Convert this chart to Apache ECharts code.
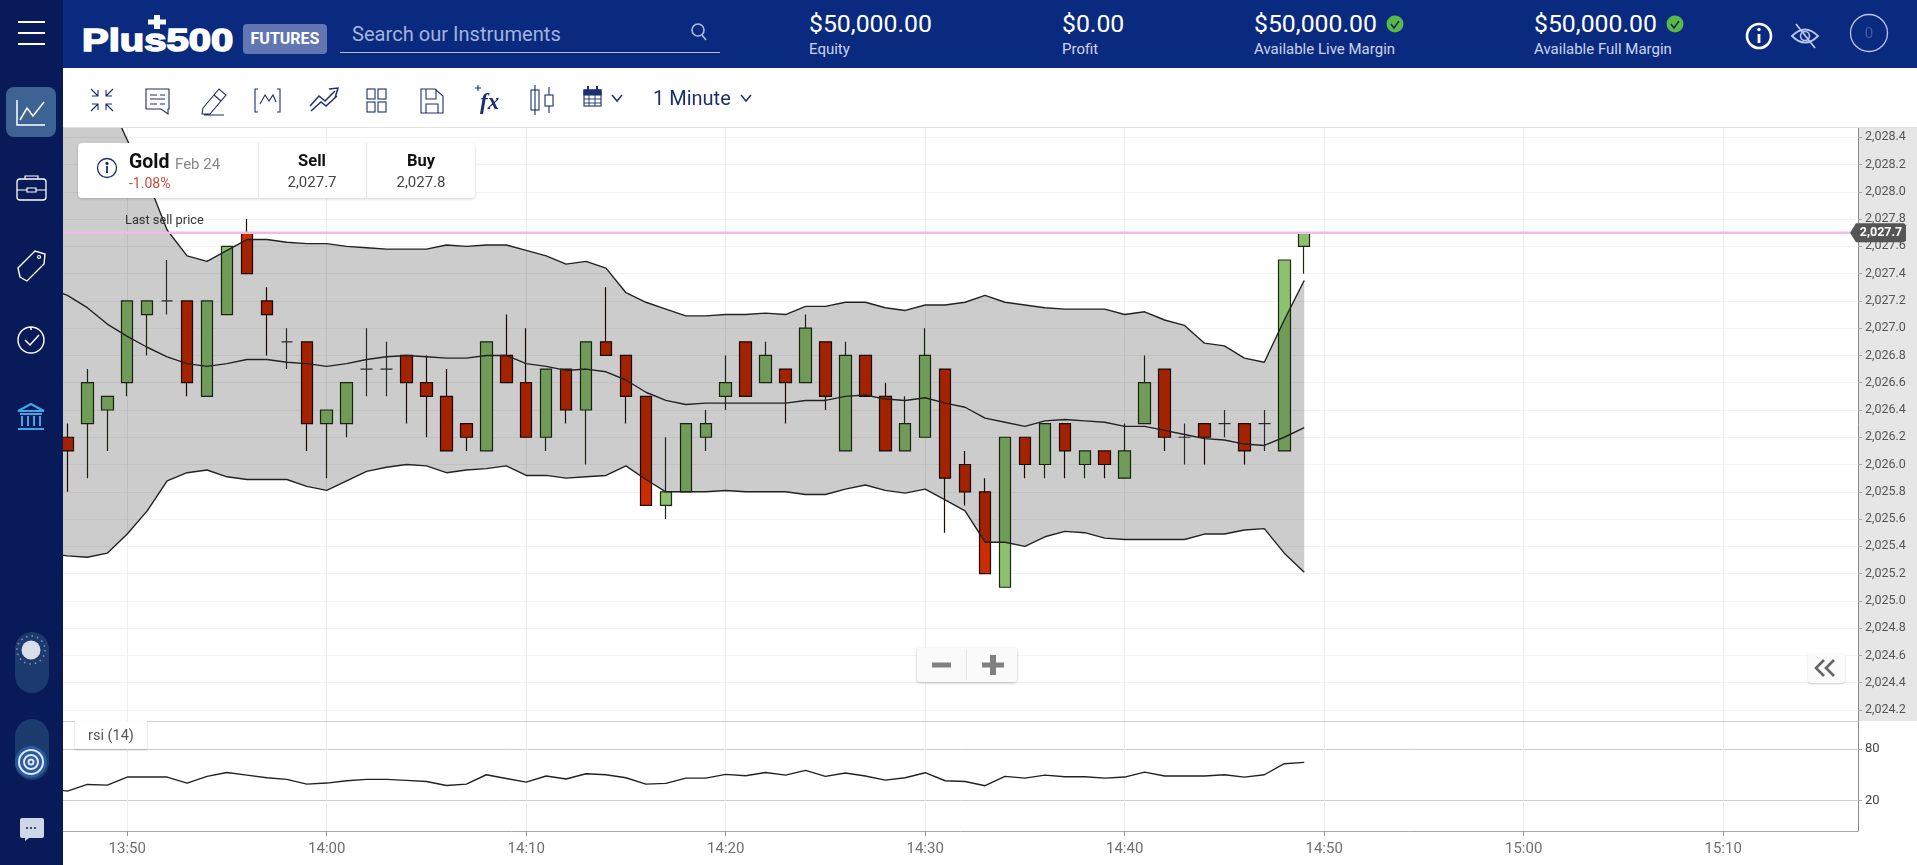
<!DOCTYPE html>
<html><head><meta charset="utf-8">
<script src="https://cdn.jsdelivr.net/npm/echarts@6/dist/echarts.min.js"></script>
<style>
html,body{margin:0;padding:0;width:1917px;height:865px;overflow:hidden;background:#fff;font-family:Roboto,sans-serif}
.a{position:absolute;white-space:nowrap}
#chart{position:absolute;left:0;top:0;width:1917px;height:865px}
svg{position:absolute;overflow:visible}
</style></head><body>
<div class="a" style="left:1858px;top:128px;width:59px;height:593px;background:#e6e6e6"></div>
<div id="chart"></div>

<div class="a" style="left:0;top:0;width:1917px;height:68px;background:#0a2a80"></div>
<div class="a" style="left:63px;top:68px;width:1854px;height:59px;background:#fff;border-bottom:1px solid #e2e2e2"></div>
<div class="a" style="left:0;top:0;width:63px;height:865px;background:#081a58"></div>

<svg style="left:0;top:0" width="63" height="865" fill="none" stroke="#fff" stroke-width="1.6">
<path d="M18 22H45M18 33H45M18 44H45" stroke-width="1.8"/>
<rect x="6" y="87" width="50" height="50" rx="8" fill="#3d6394" stroke="none"/>
<path d="M17 100V125H45M20 120L27 108L33 116L44 102" stroke-width="1.5"/>
<rect x="17" y="179" width="29" height="21" rx="3" stroke-width="1.3"/><path d="M25 179V176H38V179M17 190H27M36 190H46M27 188H36V192H27Z" stroke-width="1.2"/>
<path d="M20 277L18 268L35 251L45 254L44 264L27 281Z" stroke-width="1.4"/><circle cx="39" cy="257" r="1.5" stroke-width="1.2"/>
<circle cx="31" cy="340" r="13" stroke-width="1.4"/><path d="M25 340L30 345L39 335M31 327V330" stroke-width="1.5"/>
<g stroke="#3ea7ec" stroke-width="2"><path d="M18 411L31 404L44 411ZM20 414H42M22 416V426M28 416V426M34 416V426M40 416V426M18 429H44"/></g>
<rect x="15" y="632" width="34" height="61" rx="17" fill="#1b3b6f" stroke="none"/>
<circle cx="31" cy="650" r="9.5" fill="#d9dde8" stroke="none"/>
<circle cx="31" cy="650" r="14" stroke="#7f93bd" stroke-dasharray="1.5 4" stroke-width="1.6"/>
<rect x="15" y="719" width="34" height="61" rx="17" fill="#1b3b6f" stroke="none"/>
<circle cx="31" cy="762" r="16" fill="#2a5aa0" stroke="none"/>
<g stroke="#dfe8f8" stroke-width="2"><circle cx="31" cy="762" r="12"/><circle cx="31" cy="762" r="7"/><circle cx="31" cy="762" r="2.5"/></g>
<path d="M20 820a2 2 0 0 1 2-2H42a2 2 0 0 1 2 2V836a2 2 0 0 1-2 2H29L25 841V838H22a2 2 0 0 1-2-2Z" fill="#cfd6e6" stroke="none"/>
<circle cx="27" cy="828" r="1" fill="#123" stroke="none"/><circle cx="31" cy="828" r="1" fill="#123" stroke="none"/><circle cx="35" cy="828" r="1" fill="#123" stroke="none"/>
</svg>

<div class="a" style="left:82px;top:24px;color:#fff;font:700 32px/32px 'Liberation Sans',sans-serif;-webkit-text-stroke:1.6px #fff;transform:scaleX(1.25);transform-origin:0 0">Plus500</div>
<svg style="left:148px;top:15px" width="18" height="14"><path d="M6 0H12V4.5H18V9.5H12V14H6V9.5H0V4.5H6Z" fill="#fff"/></svg>
<div class="a" style="left:243px;top:24px;width:84px;height:30px;border-radius:4px;background:#6276b3;color:#fff;font:700 16px/30px Roboto,sans-serif;text-align:center">FUTURES</div>
<div class="a" style="left:352px;top:22px;color:#a3b3dc;font:20.1px/24px Roboto,sans-serif">Search our Instruments</div>
<div class="a" style="left:340px;top:52px;width:380px;height:1px;background:#b4c1e4"></div>
<svg style="left:689px;top:22px" width="20" height="20" fill="none" stroke="#aebce0" stroke-width="1.6"><circle cx="9" cy="8" r="6"/><path d="M13 13L17 18"/></svg>

<div class="a" style="left:809px;top:10px;color:#fff;font:24.8px/28px Roboto,sans-serif">$50,000.00</div>
<div class="a" style="left:809px;top:40px;color:#cbd5ef;font:15px/18px Roboto,sans-serif">Equity</div>
<div class="a" style="left:1062px;top:10px;color:#fff;font:24.8px/28px Roboto,sans-serif">$0.00</div>
<div class="a" style="left:1062px;top:40px;color:#cbd5ef;font:15px/18px Roboto,sans-serif">Profit</div>
<div class="a" style="left:1254px;top:10px;color:#fff;font:24.8px/28px Roboto,sans-serif">$50,000.00</div>
<div class="a" style="left:1254px;top:40px;color:#cbd5ef;font:15px/18px Roboto,sans-serif">Available Live Margin</div>
<div class="a" style="left:1534px;top:10px;color:#fff;font:24.8px/28px Roboto,sans-serif">$50,000.00</div>
<div class="a" style="left:1534px;top:40px;color:#cbd5ef;font:15px/18px Roboto,sans-serif">Available Full Margin</div>
<svg style="left:0;top:0" width="1917" height="68" fill="none" stroke="#fff">
<circle cx="1395" cy="24" r="8.5" fill="#58b84a" stroke="none"/><path d="M1391 24L1394 28L1399 21" stroke="#0a2a50" stroke-width="1.4"/>
<circle cx="1675" cy="24" r="8.5" fill="#58b84a" stroke="none"/><path d="M1671 24L1674 28L1679 21" stroke="#0a2a50" stroke-width="1.4"/>
<circle cx="1759" cy="36" r="12" stroke-width="2.6"/><path d="M1759 34V43" stroke-width="2.8"/><circle cx="1759" cy="29.5" r="1.7" fill="#fff" stroke="none"/>
<path d="M1792 36Q1805 23 1818 36Q1805 49 1792 36ZM1796 24L1815 48" stroke="#b9c6e8" stroke-width="1.8"/><circle cx="1805" cy="36" r="4.5" stroke="#b9c6e8" stroke-width="1.6"/>
<circle cx="1869" cy="33" r="18.5" stroke="#b9c6e8" stroke-width="1.3"/>
</svg>
<div class="a" style="left:1849px;top:24px;width:40px;text-align:center;color:#3e5aa8;font:15px/18px Roboto,sans-serif">0</div>

<svg style="left:0;top:68px" width="800" height="60" fill="none" stroke="#1c2f6e" stroke-width="1.1">
<path d="M91 21L98 28M98 22V28H92M113 21L106 28M106 22V28H112M91 43L98 36M92 36H98V42M113 43L106 36M106 42V36H112"/>
<path d="M146 21H169V41H168V46L161 41H146ZM150 27H157M160 27H165M150 31H165M150 36H157M160 36H165"/>
<path d="M203 40L219 21L226 27L210 46H202ZM204 47H224M214 27L221 33"/>
<path d="M258 21H255V44H258M277 21H280V44H277M260 36L265 27L269 33L273 27L276 34"/>
<path d="M310 38L319 28L325 33L335 23M335 30L338 20L329 21M311 43L321 34L326 38L337 28" stroke-width="1.5"/>
<rect x="367" y="21" width="8" height="10"/><rect x="378" y="21" width="8" height="10"/><rect x="367" y="34" width="8" height="10"/><rect x="378" y="34" width="8" height="10"/>
<path d="M421 21H435L443 28V45H421ZM426 21V31H436V21M426 45V36H438V45"/>
<text x="480" y="41" font-family="Liberation Serif" font-size="23" font-style="italic" font-weight="700" fill="#1c2f6e" stroke="none">fx</text>
<path d="M475 20H481M478 17V23"/>
<rect x="531" y="22" width="8" height="20"/><path d="M535 17V47M549 19V45"/><rect x="545" y="27" width="8" height="11" fill="#fff"/>
<rect x="584" y="22" width="17" height="16"/><rect x="584" y="22" width="17" height="5" fill="#1c2f6e"/><path d="M584 31H601M584 35H601M589 27V38M595 27V38" stroke-width=".9"/><path d="M588 18V23M597 18V23" stroke-width="2"/>
<path d="M612 27L617 33L622 27M741 27L746 33L751 27" stroke-width="1.5"/>
</svg>
<div class="a" style="left:653px;top:86px;color:#1c2f6e;font:20px/24px Roboto,sans-serif">1 Minute</div>

<div class="a" style="left:78px;top:143px;width:397px;height:55px;background:#fff;border-radius:4px;box-shadow:0 1px 3px rgba(0,0,0,.18)"></div>
<div class="a" style="left:258px;top:143px;width:1px;height:55px;background:#e6e6e6"></div>
<div class="a" style="left:366px;top:143px;width:1px;height:55px;background:#e6e6e6"></div>
<svg style="left:97px;top:158px" width="22" height="22" fill="none" stroke="#1c2f6e" stroke-width="1.3"><circle cx="10" cy="10" r="9.5"/><path d="M10 8V15" stroke-width="1.8"/><circle cx="10" cy="5.5" r="1" fill="#1c2f6e"/></svg>
<div class="a" style="left:129px;top:151px;color:#111;font:700 19.5px/22px Roboto,sans-serif">Gold</div>
<div class="a" style="left:175px;top:155px;color:#888;font:15px/18px Roboto,sans-serif">Feb 24</div>
<div class="a" style="left:129px;top:174px;color:#cf4a3c;font:14px/18px Roboto,sans-serif">-1.08%</div>
<div class="a" style="left:258px;top:151px;width:108px;text-align:center;color:#111;font:700 16.5px/20px Roboto,sans-serif">Sell</div>
<div class="a" style="left:258px;top:173px;width:108px;text-align:center;color:#444;font:15px/18px Roboto,sans-serif">2,027.7</div>
<div class="a" style="left:367px;top:151px;width:108px;text-align:center;color:#111;font:700 16.5px/20px Roboto,sans-serif">Buy</div>
<div class="a" style="left:367px;top:173px;width:108px;text-align:center;color:#444;font:15px/18px Roboto,sans-serif">2,027.8</div>
<div class="a" style="left:125px;top:212px;color:#333;font:12.8px/15px Roboto,sans-serif">Last sell price</div>

<div class="a" style="left:917px;top:648px;width:100px;height:34px;background:#fafafa;border-radius:3px;box-shadow:0 1px 3px rgba(0,0,0,.25)"></div>
<div class="a" style="left:966px;top:650px;width:1px;height:30px;background:#e4e4e4"></div>
<svg style="left:917px;top:648px" width="100" height="34"><path d="M15 14.5H34V19.5H15ZM65 14.5H73V7H79V14.5H87V19.5H79V27H73V19.5H65Z" fill="#808080"/></svg>
<div class="a" style="left:1808px;top:653px;width:37px;height:30px;background:#fafafa;border-radius:3px;box-shadow:0 1px 2px rgba(0,0,0,.2)"></div>
<svg style="left:1808px;top:653px" width="37" height="30" fill="none" stroke="#666" stroke-width="2.6"><path d="M16 7L8 15L16 23M26 7L18 15L26 23"/></svg>
<div class="a" style="left:75px;top:721px;width:72px;height:28px;background:#fff;box-shadow:0 1px 2px rgba(0,0,0,.2);text-align:center;color:#555;font:14.5px/30px Roboto,sans-serif">rsi (14)</div>

<script>
const xTickValues = [830,840,850,860,870,880,890,900,910];
const xTickLabels = ['13:50','14:00','14:10','14:20','14:30','14:40','14:50','15:00','15:10'];
const priceTicks = [2028.4,2028.2,2028.0,2027.8,2027.6,2027.4,2027.2,2027.0,2026.8,2026.6,2026.4,2026.2,2026.0,2025.8,2025.6,2025.4,2025.2,2025.0,2024.8,2024.6,2024.4,2024.2];
const rsiTicks = [20,80];
const lastPrice = 2027.7;
const minutes = [827,828,829,830,831,832,833,834,835,836,837,838,839,840,841,842,843,844,845,846,847,848,849,850,851,852,853,854,855,856,857,858,859,860,861,862,863,864,865,866,867,868,869,870,871,872,873,874,875,876,877,878,879,880,881,882,883,884,885,886,887,888,889];
const opens = [2026.2,2026.3,2026.4,2026.6,2027.1,2027.2,2027.2,2026.5,2027.1,2027.7,2027.2,2026.9,2026.9,2026.3,2026.3,2026.7,2026.7,2026.8,2026.6,2026.5,2026.3,2026.1,2026.8,2026.6,2026.2,2026.7,2026.4,2026.9,2026.8,2026.5,2025.7,2025.8,2026.2,2026.5,2026.9,2026.6,2026.7,2026.6,2026.9,2026.1,2026.8,2026.5,2026.1,2026.2,2026.7,2026.0,2025.8,2025.1,2026.2,2026.0,2026.3,2026.0,2026.1,2025.9,2026.3,2026.7,2026.2,2026.3,2026.3,2026.3,2026.3,2026.1,2027.6];
const closes = [2026.1,2026.6,2026.5,2027.2,2027.2,2027.2,2026.6,2027.2,2027.6,2027.4,2027.1,2026.9,2026.3,2026.4,2026.6,2026.7,2026.7,2026.6,2026.5,2026.1,2026.2,2026.9,2026.6,2026.2,2026.7,2026.4,2026.9,2026.8,2026.5,2025.7,2025.8,2026.3,2026.3,2026.6,2026.5,2026.8,2026.6,2027.0,2026.5,2026.8,2026.5,2026.1,2026.3,2026.8,2025.9,2025.8,2025.2,2026.2,2026.0,2026.3,2026.1,2026.1,2026.0,2026.1,2026.6,2026.2,2026.2,2026.2,2026.3,2026.1,2026.3,2027.5,2027.7];
const lows = [2025.8,2025.9,2026.1,2026.5,2026.8,2027.1,2026.5,2026.5,2027.1,2027.4,2026.8,2026.7,2026.1,2025.9,2026.2,2026.5,2026.5,2026.3,2026.2,2026.1,2026.1,2026.1,2026.6,2026.2,2026.1,2026.3,2026.0,2026.8,2026.3,2025.7,2025.6,2025.8,2026.1,2026.4,2026.5,2026.6,2026.3,2026.6,2026.4,2026.1,2026.5,2026.1,2026.1,2026.2,2025.5,2025.7,2025.2,2025.1,2025.9,2025.9,2025.9,2025.9,2025.9,2025.9,2026.3,2026.1,2026.0,2026.0,2026.2,2026.0,2026.1,2026.1,2027.4];
const highs = [2026.3,2026.7,2026.5,2027.2,2027.2,2027.5,2027.2,2027.2,2027.6,2027.8,2027.3,2027.0,2026.9,2026.4,2026.6,2027.0,2026.9,2026.8,2026.8,2026.7,2026.3,2026.9,2027.1,2027.0,2026.7,2026.7,2026.9,2027.3,2026.8,2026.5,2026.2,2026.3,2026.4,2026.8,2026.9,2026.9,2026.7,2027.1,2026.9,2026.9,2026.8,2026.6,2026.5,2027.0,2026.7,2026.1,2025.9,2026.2,2026.2,2026.3,2026.3,2026.1,2026.1,2026.3,2026.8,2026.7,2026.3,2026.3,2026.4,2026.3,2026.4,2027.5,2027.7];
const bandMinutes = [826].concat(minutes);
const upperBand = [2029.1,2029.0,2028.9,2028.7,2028.38,2028.09,2027.72,2027.53,2027.49,2027.57,2027.65,2027.65,2027.63,2027.62,2027.62,2027.60,2027.59,2027.58,2027.58,2027.58,2027.61,2027.60,2027.61,2027.61,2027.57,2027.53,2027.47,2027.49,2027.44,2027.26,2027.19,2027.14,2027.09,2027.09,2027.10,2027.10,2027.11,2027.10,2027.16,2027.16,2027.19,2027.19,2027.15,2027.13,2027.17,2027.17,2027.19,2027.24,2027.19,2027.17,2027.15,2027.14,2027.14,2027.14,2027.10,2027.12,2027.06,2027.02,2026.89,2026.87,2026.78,2026.75,2027.06,2027.35];
const middleBand = [2027.30,2027.24,2027.15,2027.03,2026.94,2026.86,2026.79,2026.74,2026.72,2026.74,2026.77,2026.77,2026.75,2026.74,2026.72,2026.74,2026.77,2026.79,2026.80,2026.79,2026.78,2026.78,2026.80,2026.80,2026.74,2026.72,2026.69,2026.70,2026.68,2026.62,2026.53,2026.47,2026.44,2026.45,2026.45,2026.45,2026.45,2026.45,2026.47,2026.47,2026.50,2026.51,2026.48,2026.47,2026.49,2026.45,2026.42,2026.34,2026.31,2026.28,2026.32,2026.33,2026.32,2026.31,2026.28,2026.28,2026.25,2026.22,2026.19,2026.18,2026.15,2026.14,2026.20,2026.27];
const lowerBand = [2025.35,2025.33,2025.32,2025.35,2025.49,2025.66,2025.88,2025.94,2025.96,2025.91,2025.89,2025.89,2025.89,2025.84,2025.81,2025.88,2025.95,2025.98,2026.00,2025.99,2025.94,2025.96,2025.97,2025.99,2025.92,2025.92,2025.90,2025.91,2025.92,2025.99,2025.89,2025.80,2025.80,2025.80,2025.81,2025.80,2025.80,2025.80,2025.78,2025.78,2025.82,2025.85,2025.81,2025.79,2025.82,2025.74,2025.66,2025.43,2025.43,2025.40,2025.47,2025.51,2025.50,2025.46,2025.45,2025.45,2025.45,2025.45,2025.49,2025.49,2025.52,2025.53,2025.35,2025.21];
const rsiValues = [34.0,30.9,38.7,37.9,47.3,47.3,47.3,40.3,48.1,52.7,49.6,46.5,44.6,39.1,40.3,43.0,44.6,44.6,43.4,42.2,37.5,39.1,50.0,45.7,41.4,48.5,45.0,51.2,50.0,46.5,39.1,39.9,46.1,46.1,50.4,48.9,52.7,49.6,55.1,48.1,52.0,48.5,43.8,46.5,52.4,43.0,42.2,37.2,48.1,46.1,49.6,47.7,47.7,46.1,47.3,53.1,48.5,48.5,48.5,50.0,47.3,50.0,62.9,64.4];

const fmtPrice = v => v.toLocaleString('en-US',{minimumFractionDigits:1,maximumFractionDigits:1});
const fmtTime = v => xTickLabels[xTickValues.indexOf(Math.round(v))] || '';
const zip = (a,b) => a.map((x,i)=>[x,b[i]]);
const XMIN = 826.78, XMAX = 916.76;
const gridColX = '#eeeeee', gridColY = '#f3f3f3';

const chart = echarts.init(document.getElementById('chart'), null, {renderer:'canvas'});
chart.setOption({
  animation:false,
  textStyle:{fontFamily:'Roboto'},
  grid:[
    {left:63,right:59,top:128,height:593,containLabel:false},
    {left:63,right:59,top:721,height:110,containLabel:false}
  ],
  xAxis:[
    {type:'value',gridIndex:0,min:XMIN,max:XMAX,scale:true,
      axisLine:{onZero:false,lineStyle:{color:'#cfcfcf',width:1}},
      axisTick:{show:false,customValues:xTickValues},
      axisLabel:{show:false,customValues:xTickValues},
      splitLine:{show:true,lineStyle:{color:gridColX,width:1}}},
    {type:'value',gridIndex:1,min:XMIN,max:XMAX,scale:true,position:'bottom',
      axisLine:{onZero:false,lineStyle:{color:'#a8a8a8',width:1}},
      axisTick:{show:true,length:5,lineStyle:{color:'#999'},customValues:xTickValues},
      axisLabel:{show:true,customValues:xTickValues,formatter:fmtTime,color:'#707070',fontSize:15,margin:11,fontFamily:'Roboto'},
      splitLine:{show:true,lineStyle:{color:gridColX,width:1}}}
  ],
  yAxis:[
    {type:'value',gridIndex:0,position:'right',min:2024.119,max:2028.468,scale:true,
      axisLine:{show:true,onZero:false,lineStyle:{color:'#8a8a8a',width:1}},
      axisTick:{show:true,length:4,lineStyle:{color:'#aaa'},customValues:priceTicks},
      axisLabel:{show:true,customValues:priceTicks,formatter:fmtPrice,color:'#555',fontSize:12.5,margin:7,fontFamily:'Roboto'},
      splitLine:{show:true,lineStyle:{color:gridColY,width:1}}},
    {type:'value',gridIndex:1,position:'right',min:-15.6,max:112.7,scale:true,
      axisLine:{show:true,onZero:false,lineStyle:{color:'#8a8a8a',width:1}},
      axisTick:{show:true,length:4,lineStyle:{color:'#aaa'},customValues:rsiTicks},
      axisLabel:{show:true,customValues:rsiTicks,color:'#444',fontSize:13,margin:7,fontFamily:'Roboto'},
      splitLine:{show:true,lineStyle:{color:'#cccccc',width:1}}}
  ],
  series:[
    {type:'candlestick',name:'Gold',xAxisIndex:0,yAxisIndex:0,barWidth:12,z:2,clip:true,
      data:minutes.map((m,i)=>[m,opens[i],closes[i],lows[i],highs[i]]),
      itemStyle:{color:'#8cc26f',color0:'#cc2c00',borderColor:'#1d2b14',borderColor0:'#1f0a02',borderColorDoji:'#333',borderWidth:1.2}},
    {type:'custom',name:'band',xAxisIndex:0,yAxisIndex:0,z:3,clip:true,silent:true,
      data:[0],
      renderItem:(p,api)=>{
        const up=bandMinutes.map((m,i)=>api.coord([m,upperBand[i]]));
        const lo=bandMinutes.map((m,i)=>api.coord([m,lowerBand[i]])).reverse();
        return {type:'polygon',shape:{points:up.concat(lo)},style:{fill:'rgba(0,0,0,0.2)',stroke:null},
          clipPath:{type:'rect',shape:{x:p.coordSys.x,y:p.coordSys.y,width:p.coordSys.width,height:p.coordSys.height}}};
      }},
    {type:'line',name:'upper',xAxisIndex:0,yAxisIndex:0,data:zip(bandMinutes,upperBand),showSymbol:false,symbol:'none',clip:true,z:4,lineStyle:{color:'#222',width:1.4}},
    {type:'line',name:'middle',xAxisIndex:0,yAxisIndex:0,data:zip(bandMinutes,middleBand),showSymbol:false,symbol:'none',clip:true,z:4,lineStyle:{color:'#222',width:1.4}},
    {type:'line',name:'lower',xAxisIndex:0,yAxisIndex:0,data:zip(bandMinutes,lowerBand),showSymbol:false,symbol:'none',clip:true,z:4,lineStyle:{color:'#222',width:1.4}},
    {type:'line',name:'last',xAxisIndex:0,yAxisIndex:0,data:[[XMIN,lastPrice],[XMAX-0.4,lastPrice]],showSymbol:false,symbol:'none',clip:true,z:5,lineStyle:{color:'#ecbcec',width:2.5}},
    {type:'custom',name:'lastTag',xAxisIndex:0,yAxisIndex:0,z:6,clip:false,silent:true,
      data:[lastPrice],
      renderItem:(p,api)=>{
        const c=api.coord([XMAX,api.value(0)]);
        return {type:'group',children:[
          {type:'polygon',shape:{points:[[c[0]-8,c[1]],[c[0]-2,c[1]-9.5],[c[0]+46,c[1]-9.5],[c[0]+48,c[1]-7.5],[c[0]+48,c[1]+7.5],[c[0]+46,c[1]+9.5],[c[0]-2,c[1]+9.5]]},style:{fill:'#555'}},
          {type:'text',style:{x:c[0]+23,y:c[1],text:fmtPrice(api.value(0)),fill:'#fff',font:'700 12.5px Roboto',align:'center',verticalAlign:'middle'}}
        ]};
      }},
    {type:'line',name:'rsi',xAxisIndex:1,yAxisIndex:1,data:zip(bandMinutes,rsiValues),showSymbol:false,symbol:'none',clip:true,z:4,lineStyle:{color:'#222',width:1.4}}
  ]
});
</script>
</body></html>
